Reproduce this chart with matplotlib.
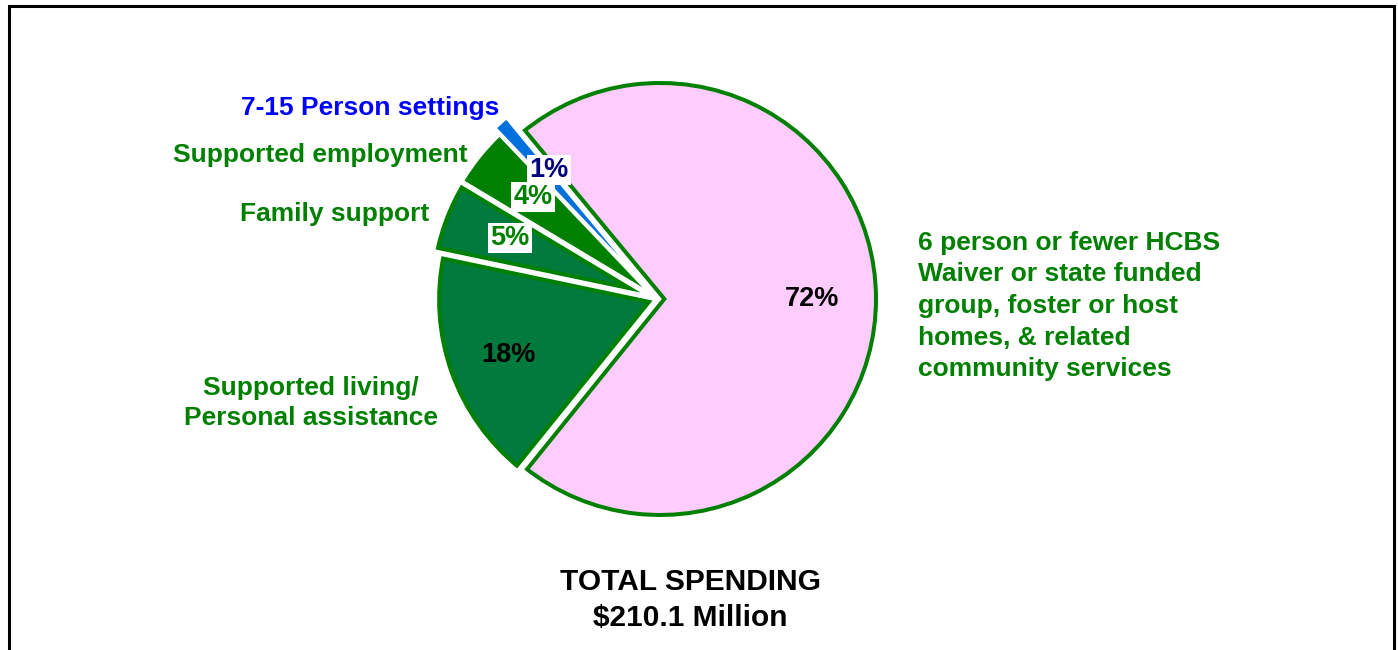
import matplotlib
matplotlib.use("Agg")
import matplotlib.pyplot as plt
from matplotlib.patches import Rectangle

# ---- data ----
categories = ["6 person or fewer HCBS\nWaiver or state funded\ngroup, foster or host\nhomes, & related\ncommunity services",
              "Supported living/\nPersonal assistance",
              "Family support",
              "Supported employment",
              "7-15 Person settings"]
shares = [71.8, 17.5, 5.3, 4.3, 1.1]
pct_labels = ["72%", "18%", "5%", "4%", "1%"]
total_title = "TOTAL SPENDING\n$210.1 Million"

# ---- style ----
W, H = 1398, 650
fill_colors = ["#FFCCFF", "#007A3D", "#007A3D", "#008000", "#0070DD"]
edge_colors = ["#008000", "#008000", "#008000", "#008000", "#0070DD"]
cat_colors = ["#008000", "#008000", "#008000", "#008000", "#0000FF"]
pct_colors = ["#000000", "#000000", "#008000", "#008000", "#000080"]
pct_boxed = [False, False, True, True, True]
explode_px = [3, 2, 9, 8, 16]
FONT = ["Liberation Sans", "DejaVu Sans"]
PX = 0.72  # points per pixel at dpi 100
GAP_PX = 2.8      # white separator width
EDGE_PX = 4.0     # visible green border width


def iy(y):
    return H - y


fig = plt.figure(figsize=(W / 100, H / 100), dpi=100)
ax = fig.add_axes([0, 0, 1, 1])

pie_kw = dict(startangle=129.6, counterclock=False,
              center=(657, iy(299)), radius=218 + GAP_PX / 2)

# wedges with inner green border (stroke clipped to the wedge itself)
wedges, _ = ax.pie(shares, colors=fill_colors, explode=explode_px,
                   wedgeprops=dict(linewidth=2 * (EDGE_PX + GAP_PX / 2) * PX,
                                   joinstyle="miter"), **pie_kw)
for w, ec in zip(wedges, edge_colors):
    w.set_edgecolor(ec)
    w.set_clip_on(True)
    w.set_clip_path(w)

# white separators between the slices
seps, _ = ax.pie(shares, explode=explode_px,
                 wedgeprops=dict(facecolor="none", edgecolor="white",
                                 linewidth=GAP_PX * PX, joinstyle="miter"),
                 **pie_kw)

ax.set_xlim(0, W)
ax.set_ylim(0, H)
ax.set_aspect("equal")
ax.axis("off")

# percentage labels (image pixel positions)
pct_pos = [(812, 299), (508, 355), (510, 238), (533, 197), (549, 170)]
for lab, (x, y), c, boxed in zip(pct_labels, pct_pos, pct_colors, pct_boxed):
    kw = {}
    if boxed:
        kw["bbox"] = dict(boxstyle="square,pad=0.08", fc="white", ec="none")
    ax.text(x, iy(y), lab, color=c, fontsize=19.5, fontweight="bold",
            family=FONT, ha="center", va="center", zorder=5, **kw)

# category labels
cat_pos = [(918, 306, "left", 1.4), (311, 403, "center", 1.33),
           (335, 214, "center", 1.2), (320, 155, "center", 1.2),
           (370, 108, "center", 1.2)]
for lab, (x, y, ha, ls), c in zip(categories, cat_pos, cat_colors):
    ax.text(x, iy(y), lab, color=c, fontsize=19, fontweight="bold",
            family=FONT, ha=ha, va="center", multialignment=ha,
            linespacing=ls)

ax.text(690, iy(600), total_title, color="black", fontsize=21.5,
        fontweight="bold", family=FONT, ha="center", va="center",
        linespacing=1.33)

# outer frame (bottom edge is below the image)
fig.patches.append(Rectangle((8.5 / W, -0.1), 1385.5 / W, (H - 6) / H + 0.1,
                             transform=fig.transFigure, fill=False,
                             ec="black", lw=2.2))

fig.savefig("out.png", dpi=100)
